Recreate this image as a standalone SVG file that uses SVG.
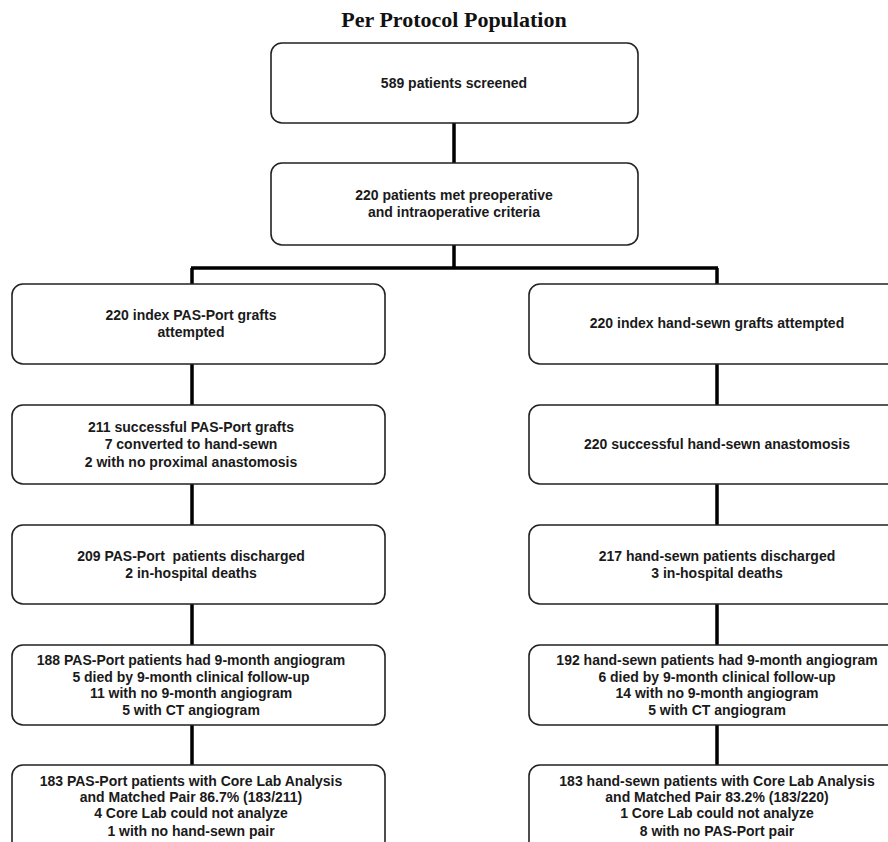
<svg xmlns="http://www.w3.org/2000/svg" width="888" height="842" viewBox="0 0 888 842">
<style>
.box{fill:#fff;stroke:#222;stroke-width:1.6}
.t{font-family:"Liberation Sans",Arial,sans-serif;font-weight:bold;font-size:14px;fill:#1a1a1a;text-anchor:middle}
.title{font-family:"Liberation Serif","Times New Roman",serif;font-weight:bold;font-size:22px;fill:#111;text-anchor:middle}
.c{fill:none;stroke:#000;stroke-width:3.5}
</style>
<rect width="888" height="842" fill="#fff"/>
<text class="title" x="454" y="27">Per Protocol Population</text>
<g id="connectors">
<path class="c" d="M454,123V163M454,245V268M191,268H718M192,268V284M717,268V284"/>
<path class="c" d="M192,364V405M192,484V525M192,604V645M192,725V765"/>
<path class="c" d="M717,364V405M717,484V525M717,604V645M717,725V765"/>
</g>
<g id="screened"><rect class="box" x="271" y="43" width="367" height="80" rx="11"/><text class="t" x="454" y="88">589 patients screened</text></g>
<g id="met"><rect class="box" x="271" y="163" width="367" height="82" rx="11"/><text class="t" x="454" y="200">220 patients met preoperative</text><text class="t" x="454" y="217">and intraoperative criteria</text></g>
<g id="l1"><rect class="box" x="12" y="284" width="373" height="80" rx="11"/><text class="t" x="191" y="320">220 index PAS-Port grafts</text><text class="t" x="191" y="337">attempted</text></g>
<g id="l2"><rect class="box" x="12" y="405" width="373" height="79" rx="11"/><text class="t" x="191" y="432">211 successful PAS-Port grafts</text><text class="t" x="191" y="449">7 converted to hand-sewn</text><text class="t" x="191" y="467">2 with no proximal anastomosis</text></g>
<g id="l3"><rect class="box" x="12" y="525" width="373" height="79" rx="11"/><text class="t" x="191" y="561" xml:space="preserve">209 PAS-Port  patients discharged</text><text class="t" x="191" y="578">2 in-hospital deaths</text></g>
<g id="l4"><rect class="box" x="12" y="645" width="373" height="80" rx="11"/><text class="t" x="191" y="665">188 PAS-Port patients had 9-month angiogram</text><text class="t" x="191" y="682">5 died by 9-month clinical follow-up</text><text class="t" x="191" y="698">11 with no 9-month angiogram</text><text class="t" x="191" y="715">5 with CT angiogram</text></g>
<g id="l5"><rect class="box" x="12" y="765" width="373" height="90" rx="11"/><text class="t" x="191" y="786">183 PAS-Port patients with Core Lab Analysis</text><text class="t" x="191" y="802">and Matched Pair 86.7% (183/211)</text><text class="t" x="191" y="818">4 Core Lab could not analyze</text><text class="t" x="191" y="836">1 with no hand-sewn pair</text></g>
<g id="r1"><rect class="box" x="529" y="284" width="380" height="80" rx="11"/><text class="t" x="717" y="328">220 index hand-sewn grafts attempted</text></g>
<g id="r2"><rect class="box" x="529" y="405" width="380" height="79" rx="11"/><text class="t" x="717" y="449">220 successful hand-sewn anastomosis</text></g>
<g id="r3"><rect class="box" x="529" y="525" width="380" height="79" rx="11"/><text class="t" x="717" y="561">217 hand-sewn patients discharged</text><text class="t" x="717" y="578">3 in-hospital deaths</text></g>
<g id="r4"><rect class="box" x="529" y="645" width="380" height="80" rx="11"/><text class="t" x="717" y="665">192 hand-sewn patients had 9-month angiogram</text><text class="t" x="717" y="682">6 died by 9-month clinical follow-up</text><text class="t" x="717" y="698">14 with no 9-month angiogram</text><text class="t" x="717" y="715">5 with CT angiogram</text></g>
<g id="r5"><rect class="box" x="529" y="765" width="380" height="90" rx="11"/><text class="t" x="717" y="786">183 hand-sewn patients with Core Lab Analysis</text><text class="t" x="717" y="802">and Matched Pair 83.2% (183/220)</text><text class="t" x="717" y="818">1 Core Lab could not analyze</text><text class="t" x="717" y="836">8 with no PAS-Port pair</text></g>
</svg>
